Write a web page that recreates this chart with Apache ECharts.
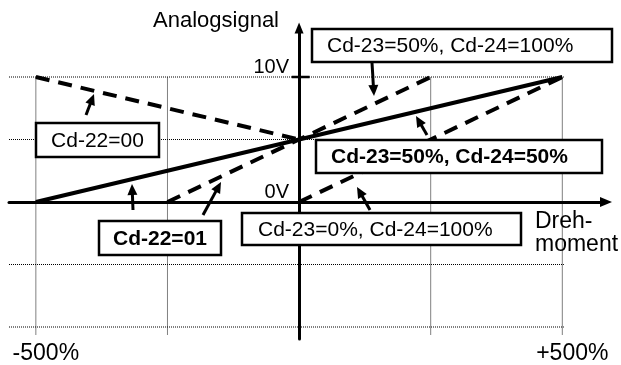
<!DOCTYPE html>
<html><head><meta charset="utf-8">
<script src="https://cdn.jsdelivr.net/npm/echarts@6/dist/echarts.min.js"></script>
<style>html,body{margin:0;padding:0;background:#fff}#c{width:621px;height:365px}</style>
</head><body><div id="c"></div>
<script>
// ---- data ----
const xLabelValues = [-500, 500];
const xLabelTexts = ['-500%', '+500%'];
const yLabelValues = [0, 10];
const yLabelTexts = ['0V', '10V'];
const gridXValues = [-500, -250, 250, 500];
const gridYValues = [10, 5, -5, -10];
const lineCd23_50_Cd24_50 = [[-500, 0], [500, 10]];   // solid
const lineCd22_00 = [[-500, 10], [0, 5]];             // dashed
const lineCd22_01 = [[-250, 0], [250, 10]];           // dashed (Cd-22=01 / Cd-23=50%, Cd-24=100%)
const lineCd23_0_Cd24_100 = [[0, 0], [500, 10]];      // dashed
const yTickValue = 10;
const axisName = { y: 'Analogsignal', x: ['Dreh-', 'moment'] };
const notes = ['Cd-22=00', 'Cd-23=50%, Cd-24=100%', 'Cd-23=50%, Cd-24=50%', 'Cd-22=01', 'Cd-23=0%, Cd-24=100%'];

// ---- scale ranges ----
const X_MIN = -551, X_MAX = 583, Y_MIN = -10.96, Y_MAX = 13.92;
const GRID_X_END = 503, GRID_Y_BOTTOM = -10.6;

const FONT = '"Liberation Sans", Arial, sans-serif';
const chart = echarts.init(document.getElementById('c'), null, { renderer: 'canvas' });

// grid box in pixels; axes placed at the value 0 through offsets computed from it
const G = { left: 9, right: 15, top: 28, bottom: 26 };
const W = 621, H = 365;
const gx0 = G.left, gx1 = W - G.right, gy0 = G.top, gy1 = H - G.bottom;
const zeroX = gx0 + (0 - X_MIN) / (X_MAX - X_MIN) * (gx1 - gx0);
const zeroY = gy0 + (Y_MAX - 0) / (Y_MAX - Y_MIN) * (gy1 - gy0);

const dotted = { color: '#000', width: 1, type: 'dotted' };
const gridSeries = [];
gridYValues.forEach(v => gridSeries.push({
  type: 'line', data: [[X_MIN, v], [GRID_X_END, v]], showSymbol: false, silent: true,
  lineStyle: dotted, z: 1, animation: false
}));
gridXValues.forEach(v => gridSeries.push({
  type: 'line', data: [[v, GRID_Y_BOTTOM], [v, yLabelValues[1]]], showSymbol: false, silent: true,
  lineStyle: dotted, z: 1, animation: false
}));

const dash = [14, 9];
function curve(data, type) {
  return { type: 'line', data: data, showSymbol: false, silent: true, z: 3, animation: false,
    lineStyle: { color: '#000', width: 4, type: type, cap: 'butt' } };
}

// annotation boxes (pixel layout)
const boxes = [
  { t: notes[0], x: 36, y: 123, w: 123, h: 34, bold: false, align: 'center' },
  { t: notes[1], x: 312, y: 29, w: 300, h: 33, bold: false, align: 'left', pad: 15 },
  { t: notes[2], x: 316, y: 140, w: 286, h: 33, bold: true, align: 'left', pad: 15 },
  { t: notes[3], x: 99, y: 221, w: 122, h: 34, bold: true, align: 'center' },
  { t: notes[4], x: 242, y: 213, w: 279, h: 32, bold: false, align: 'left', pad: 16 }
];
const arrows = [
  [86, 115, 94, 94],
  [372, 63, 374, 96],
  [427, 135, 416, 116],
  [133, 210, 132, 184],
  [203, 215, 221, 182],
  [370, 210, 357, 187]
];
const graphics = [];
boxes.forEach(b => {
  graphics.push({ type: 'rect', shape: { x: b.x, y: b.y, width: b.w, height: b.h }, z: 100,
    style: { fill: '#fff', stroke: '#000', lineWidth: 2.5 } });
  graphics.push({ type: 'text', z: 101, style: {
    text: b.t, x: b.align === 'center' ? b.x + b.w / 2 : b.x + b.pad, y: b.y + b.h / 2 + 1,
    align: b.align, verticalAlign: 'middle', fill: '#000',
    font: (b.bold ? 'bold ' : '') + '21px ' + FONT } });
});
arrows.forEach(a => {
  const [x1, y1, x2, y2] = a;
  const dx = x2 - x1, dy = y2 - y1, L = Math.hypot(dx, dy);
  const ux = dx / L, uy = dy / L, px = -uy, py = ux;
  const hl = 11, hw = 5;
  const bx = x2 - ux * hl, by = y2 - uy * hl;
  graphics.push({ type: 'line', z: 102, shape: { x1: x1, y1: y1, x2: bx + ux * 2, y2: by + uy * 2 },
    style: { stroke: '#000', lineWidth: 3 } });
  graphics.push({ type: 'polygon', z: 102, shape: { points: [[x2, y2], [bx + px * hw, by + py * hw], [bx - px * hw, by - py * hw]] },
    style: { fill: '#000' } });
});
graphics.push({ type: 'text', z: 101, style: { text: axisName.y, x: 279, y: 21, align: 'right', verticalAlign: 'middle', fill: '#000', font: '22px ' + FONT } });
graphics.push({ type: 'text', z: 101, style: { text: axisName.x[0], x: 535, y: 222, align: 'left', verticalAlign: 'middle', fill: '#000', font: '23px ' + FONT } });
graphics.push({ type: 'text', z: 101, style: { text: axisName.x[1], x: 535, y: 245, align: 'left', verticalAlign: 'middle', fill: '#000', font: '23px ' + FONT } });

const option = {
  backgroundColor: '#fff',
  animation: false,
  grid: Object.assign({ containLabel: false, outerBoundsMode: 'none' }, G),
  xAxis: [
    { type: 'value', min: X_MIN, max: X_MAX, position: 'bottom', offset: -(gy1 - zeroY),
      axisLine: { show: true, onZero: false, symbol: ['none', 'triangle'], symbolSize: [10, 12],
        lineStyle: { color: '#000', width: 3 } },
      axisTick: { show: false }, axisLabel: { show: false }, splitLine: { show: false } },
    { type: 'value', min: X_MIN, max: X_MAX, position: 'bottom',
      axisLine: { show: false, onZero: false }, axisTick: { show: false }, splitLine: { show: false },
      axisLabel: { show: true, customValues: xLabelValues, margin: 3, padding: [0, 0, 0, 20],
        formatter: v => xLabelTexts[xLabelValues.indexOf(v)],
        color: '#000', fontSize: 23, fontFamily: FONT } }
  ],
  yAxis: {
    type: 'value', min: Y_MIN, max: Y_MAX, position: 'left', offset: -(zeroX - gx0),
    axisLine: { show: true, onZero: false, symbol: ['none', 'triangle'], symbolSize: [9, 11],
      lineStyle: { color: '#000', width: 3 } },
    axisTick: { show: false }, splitLine: { show: false },
    axisLabel: { show: true, customValues: yLabelValues, margin: 10, verticalAlign: 'bottom',
      formatter: v => yLabelTexts[yLabelValues.indexOf(v)],
      color: '#000', fontSize: 20, fontFamily: FONT }
  },
  series: gridSeries.concat([
    { type: 'line', data: [[-14, yTickValue], [20, yTickValue]], showSymbol: false, silent: true, z: 4,
      animation: false, lineStyle: { color: '#000', width: 2.5 } },
    curve(lineCd22_00, dash),
    curve(lineCd22_01, dash),
    curve(lineCd23_0_Cd24_100, dash),
    curve(lineCd23_50_Cd24_50, 'solid')
  ]),
  graphic: graphics
};
chart.setOption(option);
</script></body></html>
